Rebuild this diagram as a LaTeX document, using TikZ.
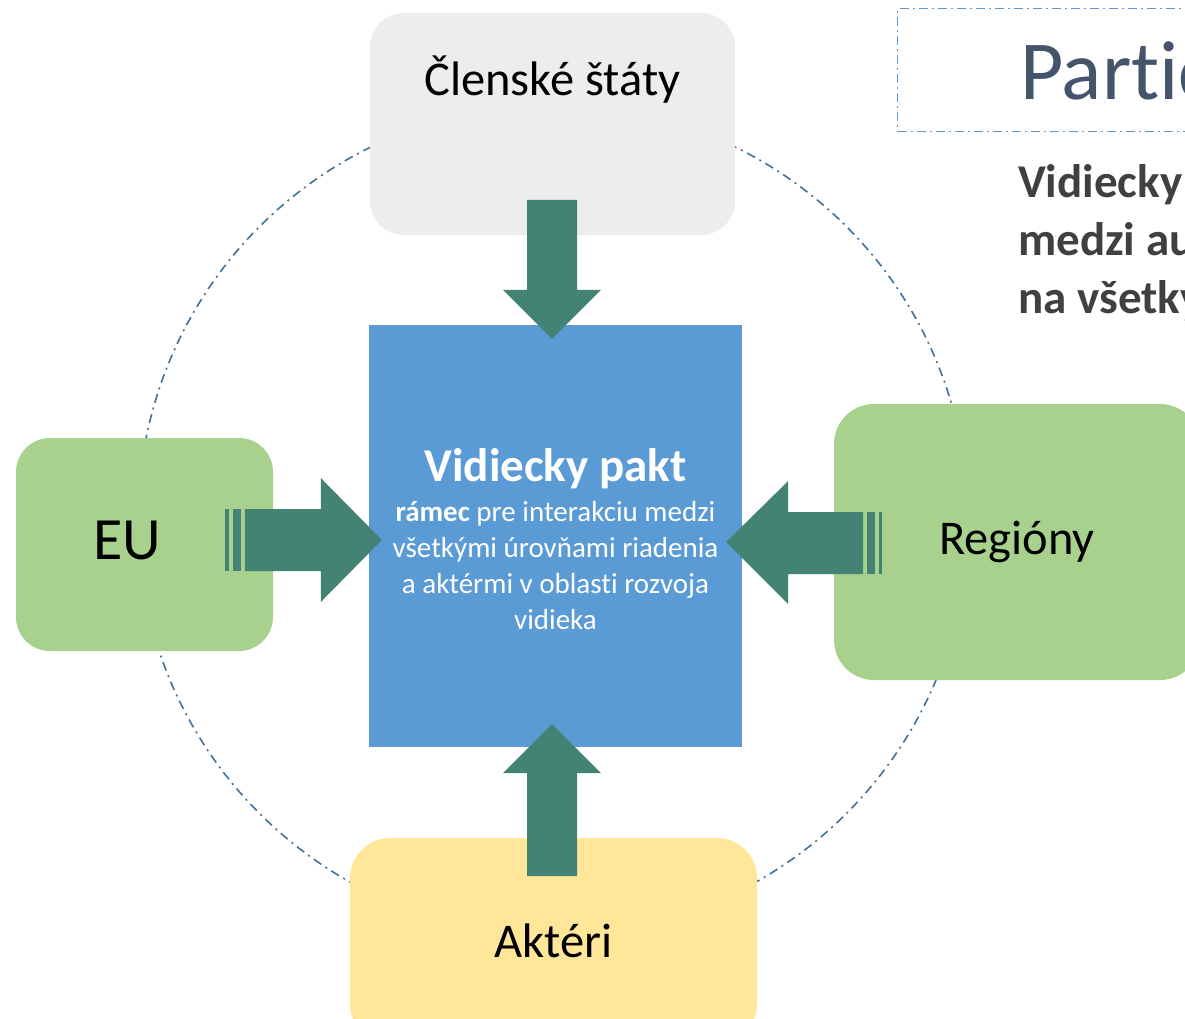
\documentclass[tikz,border=0pt]{standalone}
\usepackage{fontspec}
\setmainfont[Ligatures=NoCommon]{Carlito}
\usetikzlibrary{positioning, calc}
\definecolor{paktblue}{HTML}{5B9BD5}
\definecolor{stategray}{HTML}{EDEDED}
\definecolor{levelgreen}{HTML}{A9D18E}
\definecolor{actoryellow}{HTML}{FFE699}
\definecolor{flowteal}{HTML}{428374}
\definecolor{ringblue}{HTML}{41719C}
\definecolor{titlegray}{HTML}{44546A}
\definecolor{leadgray}{HTML}{404040}
\tikzset{%
  box/.style={rectangle, rounded corners=34pt, inner sep=0pt, text=black},
  graybox/.style={box, fill=stategray},
  greenbox/.style={box, fill=levelgreen},
  yellowbox/.style={box, fill=actoryellow},
  paktbox/.style={rectangle, fill=paktblue, inner sep=0pt},
  pakttext/.style={text=white, align=center, inner sep=0pt, font=\fontsize{29}{36}\selectfont},
  boxtext/.style={font=\fontsize{48.5}{56}\selectfont, text=black},
  flow/.style={fill=flowteal},
  ring/.style={draw=ringblue, line width=1.6pt, dash pattern=on 9pt off 5pt on 2pt off 5pt},
  titlebox/.style={draw=paktblue, line width=1.4pt, dash pattern=on 9pt off 4pt on 2pt off 4pt}}

\begin{document}
\begin{tikzpicture}[x=1pt, y=-1pt]
    \path[use as bounding box, clip] (0,0) rectangle (1185,1019);
    \fill[white] (0,0) rectangle (1185,1019);
    % Dotted ring behind the boxes
    \draw[ring] (553,520) circle [radius=415pt];
    % Boxes
    \node (clen) [graybox, minimum width=365pt, minimum height=222pt,
      label={[boxtext, yshift=44pt]center:Členské štáty}] at (552.5,124) {};
    \node (eu) [greenbox, minimum width=257pt, minimum height=213pt,
      label={[boxtext, font=\fontsize{60}{60}\selectfont, xshift=-17pt, yshift=4pt]center:EU}] at (144.5,544.5) {};
    \node (regiony) [greenbox, rounded corners=40pt, minimum width=366pt, minimum height=276pt,
      label={[boxtext, yshift=0pt]center:Regióny}] at (1017,542) {};
    \node (akteri) [yellowbox, rounded corners=40pt, minimum width=407pt, minimum height=206pt,
      label={[boxtext]center:Aktéri}] at (553.5,941) {};
    \node (pakt) [paktbox, minimum width=373pt, minimum height=422pt,
      label={[pakttext, yshift=-3pt]center:{{\fontsize{47}{52}\selectfont\bfseries Vidiecky pakt}\\[4pt]
       \textbf{rámec} pre interakciu medzi\\
       všetkými úrovňami riadenia\\
       a aktérmi v oblasti rozvoja\\
       vidieka}}] at (555.5,536) {};
    % Block arrows towards the pakt
    \coordinate (tipT) at ($(pakt.north)+(-3.5,14)$);
    \coordinate (tipB) at ($(pakt.south)+(-3.5,-23)$);
    \coordinate (tipL) at ($(pakt.west)+(13,4)$);
    \coordinate (tipR) at ($(pakt.east)+(-16,6)$);
    \fill[flow] (tipT) -- ++(-49,-49) -- ++(24,0) -- ++(0,-90) -- ++(50,0) -- ++(0,90) -- ++(24,0) -- cycle;
    \fill[flow] (tipB) -- ++(-49,49) -- ++(24,0) -- ++(0,103) -- ++(50,0) -- ++(0,-103) -- ++(24,0) -- cycle;
    \fill[flow] (tipL) -- ++(-61,-62) -- ++(0,31) -- ++(-76,0) -- ++(0,62) -- ++(76,0) -- ++(0,31) -- cycle;
    \fill[flow] ($(tipL)+(-149,-31)$) rectangle ++(8,62);
    \fill[flow] ($(tipL)+(-157,-31)$) rectangle ++(4,62);
    \fill[flow] (tipR) -- ++(62,-61) -- ++(0,31) -- ++(75,0) -- ++(0,62) -- ++(-75,0) -- ++(0,30) -- cycle;
    \fill[flow] ($(tipR)+(141,-30)$) rectangle ++(8,62);
    \fill[flow] ($(tipR)+(153,-30)$) rectangle ++(3,62);
    % Title area on the right
    \node (titleframe) [titlebox, minimum width=400pt, minimum height=123pt, anchor=north west] at (897,8) {};
    \node (title) [anchor=base west, inner sep=0pt, text=titlegray, font=\fontsize{84}{84}\selectfont] at (1020,100) {Partic};
    \node (lead) [anchor=base west, inner sep=0pt, align=left, text=leadgray,
      font=\fontsize{47}{58}\selectfont\bfseries] at (1018,313)
      {Vidiecky\\ medzi au\\ na všetky};
\end{tikzpicture}
\end{document}
